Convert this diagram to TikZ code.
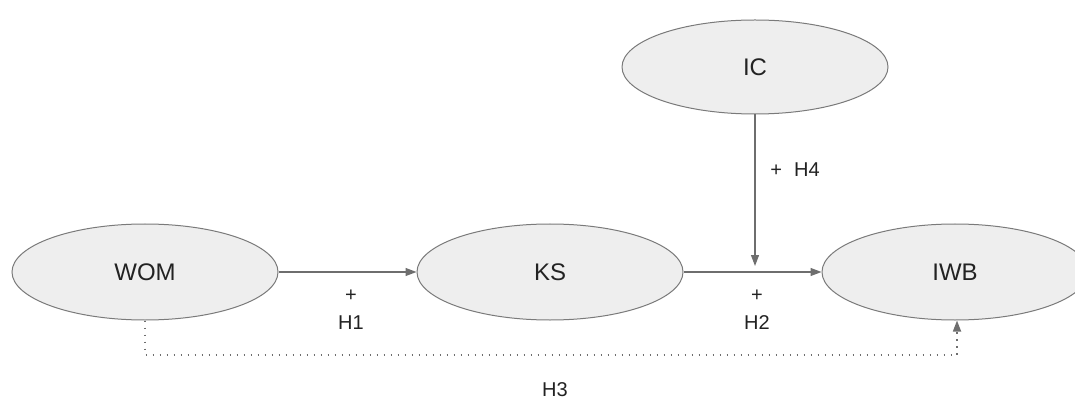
\documentclass[tikz,border=0pt]{standalone}
\usepackage{fontspec}
\setmainfont{Liberation Sans}
\usetikzlibrary{arrows.meta,shapes.geometric}
\definecolor{efill}{HTML}{EEEEEE}
\definecolor{eline}{HTML}{7A7A7A}
\definecolor{aline}{HTML}{6E6E6E}
\definecolor{tcol}{HTML}{222222}
\begin{document}
\begin{tikzpicture}[x=1pt,y=-1pt,
  var/.style={ellipse,draw=eline,fill=efill,line width=1pt,minimum width=266pt,minimum height=96pt,inner sep=0pt,text=tcol,font=\fontsize{24}{26}\selectfont},
  conn/.style={draw=aline,line width=1.1pt,-{Triangle[length=11pt,width=8pt]}},
  dotconn/.style={draw=aline,line width=1.6pt,dash pattern=on 1.6pt off 5.4pt,-{Triangle[length=11pt,width=8pt]}},
  lab/.style={text=tcol,font=\fontsize{20}{22}\selectfont,inner sep=0pt}]
\useasboundingbox (0,0) rectangle (1075,403);
\begin{scope}
\clip (0,0) rectangle (1075,403);
\node[var] (wom) at (145,272) {WOM};
\node[var] (ks) at (550,272) {KS};
\node[var] (iwb) at (955,272) {IWB};
\node[var,minimum height=94pt] (ic) at (755,67) {IC};
\end{scope}
\coordinate (j) at (755,266);
\draw[conn] (wom.east) -- (ks.west);
\draw[conn] (ks.east) -- (iwb.west);
\draw[conn] (ic.south) -- (j);
\coordinate (c1) at (145,355);
\coordinate (c2) at (957,355);
\draw[dotconn] (wom.south) -- (c1) -- (c2) -- (iwb.south -| c2);
\node[lab] (p1) at (351,296) {+};
\node[lab] (h1) at (351,323) {H1};
\node[lab] (p2) at (757,296) {+};
\node[lab] (h2) at (757,323) {H2};
\node[lab] (h4) at (795,170) {+\hspace{12pt}H4};
\node[lab] (h3) at (555,390) {H3};
\end{tikzpicture}
\end{document}
